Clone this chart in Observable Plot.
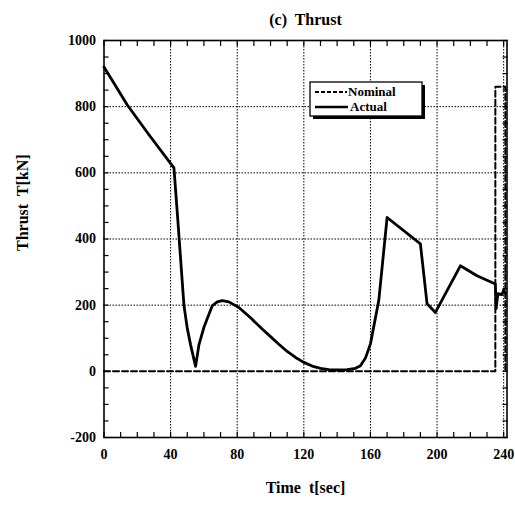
<!DOCTYPE html>
<html><head><meta charset="utf-8">
<script src="https://cdn.jsdelivr.net/npm/d3@7"></script>
<script src="https://cdn.jsdelivr.net/npm/@observablehq/plot@0.6"></script>
<style>body{margin:0;background:#fff}</style>
</head><body><div id="chart"></div>
<script>
const actualT = [0,14,27,42,44,46,48,50,52,55,57,60,65,68,71,75,81,88,95,100,105,110,115,120,125,130,135,140,146,151,154,157,160,165,170,190,194,199,214,224,235,235.5,236.5,239,240,241];
const actualV = [920,805,715,615,480,340,200,130,80,15,80,133,198,210,214,210,193,162,128,105,82,60,42,27,16,9,5,4,5,9,17,40,83,214,465,385,204,178,319,289,264,190,235,232,245,236];
const nominalT = [0,235,235,241,241];
const nominalV = [0,0,860,860,0];
const xTicks = [0,40,80,120,160,200,240];
const yTicks = [-200,0,200,400,600,800,1000];
const title = "(c)  Thrust";
const xLabel = "Time  t[sec]";
const yLabel = "Thrust  T[kN]";
const legendLabels = ["Nominal","Actual"];

const actual = actualT.map((t,i)=>({t, v: actualV[i]}));
const nominal = nominalT.map((t,i)=>({t, v: nominalV[i]}));
const font = "'Liberation Serif', 'DejaVu Serif', serif";

const plot = Plot.plot({
  width: 515, height: 512,
  marginLeft: 103.5, marginRight: 8.5, marginTop: 40, marginBottom: 75,
  style: {fontFamily: font, fontSize: "14px", fontWeight: "bold", color: "#000", background: "#fff"},
  x: {domain: [0, 242], ticks: xTicks, tickSize: 0, label: null},
  y: {domain: [-200, 1000], ticks: yTicks, tickSize: 0, label: null},
  marks: [
    Plot.gridX([40,80,120,160,200,240], {stroke: "#000", strokeOpacity: 1, strokeWidth: 1, strokeDasharray: "1.5,1.5"}),
    Plot.gridY([200,400,600,800], {stroke: "#000", strokeOpacity: 1, strokeWidth: 1, strokeDasharray: "1.5,1.5"}),
    Plot.axisX({ticks: xTicks, tickSize: 0, tickPadding: 12, fontSize: 14, tickFormat: d => String(d)}),
    Plot.axisY({ticks: yTicks, tickSize: 0, tickPadding: 8, fontSize: 14, tickFormat: d => String(d)}),
    Plot.axisX({anchor: "bottom", ticks: d3.range(0, 241, 10), tickSize: -5, text: null, strokeWidth: 1.2}),
    Plot.axisX({anchor: "top", ticks: d3.range(0, 241, 10), tickSize: -5, text: null, strokeWidth: 1.2}),
    Plot.axisY({anchor: "left", ticks: d3.range(-200, 1001, 50), tickSize: -5, text: null, strokeWidth: 1.2}),
    Plot.axisY({anchor: "right", ticks: d3.range(-200, 1001, 50), tickSize: -5, text: null, strokeWidth: 1.2}),
    Plot.line(nominal, {x: "t", y: "v", stroke: "#000", strokeWidth: 2, strokeDasharray: "6,3"}),
    Plot.line(actual, {x: "t", y: "v", stroke: "#000", strokeWidth: 2.8, strokeLinejoin: "round"}),
    Plot.frame({stroke: "#000", strokeWidth: 1.6}),
    Plot.text([title], {frameAnchor: "top", dy: -27, fontSize: 16, fontWeight: "bold"}),
    Plot.text([xLabel], {frameAnchor: "bottom", dy: 55, fontSize: 16, fontWeight: "bold"}),
    Plot.text([yLabel], {frameAnchor: "left", dx: -81, dy: 12, rotate: -90, fontSize: 16, fontWeight: "bold"})
  ]
});
document.getElementById("chart").append(plot);

// legend box
const svg = d3.select(plot);
const g = svg.append("g").attr("font-family", font).attr("font-weight", "bold").attr("font-size", 13).attr("text-anchor", "start");
const bx = 310, by = 82, bw = 112, bh = 34;
g.append("rect").attr("x", bx+3).attr("y", by+3).attr("width", bw).attr("height", bh).attr("fill", "#000");
g.append("rect").attr("x", bx).attr("y", by).attr("width", bw).attr("height", bh).attr("fill", "#fff").attr("stroke", "#000").attr("stroke-width", 1.3);
g.append("line").attr("x1", bx+5).attr("x2", bx+37).attr("y1", by+10).attr("y2", by+10).attr("stroke", "#000").attr("stroke-width", 2).attr("stroke-dasharray", "4,2");
g.append("line").attr("x1", bx+5).attr("x2", bx+38).attr("y1", by+25).attr("y2", by+25).attr("stroke", "#000").attr("stroke-width", 2.5);
g.append("text").attr("x", bx+38).attr("y", by+14).text(legendLabels[0]);
g.append("text").attr("x", bx+40).attr("y", by+29).text(legendLabels[1]);
</script>
</body></html>
